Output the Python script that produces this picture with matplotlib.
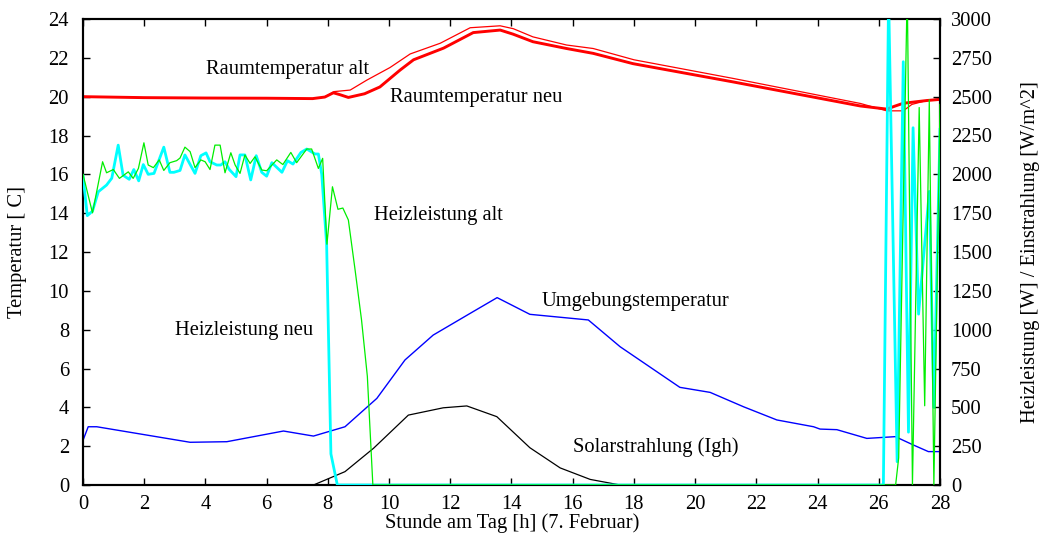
import matplotlib
matplotlib.use("Agg")
import matplotlib.pyplot as plt

plt.rcParams['font.family'] = ['Liberation Serif', 'DejaVu Serif']

# ---- data ----
hours_tick = list(range(0, 29, 2))
temp_ticks = list(range(0, 25, 2))
power_ticks = list(range(0, 3001, 250))

# Raumtemperatur neu (thick red) [C]
room_new_h = [0, 2, 4, 6, 7.5, 7.9, 8.18, 8.4, 8.67, 9.2, 9.7, 10.36, 10.8, 11.78, 12.75,
              13.63, 14.05, 14.7, 15.8, 16.67, 17.97, 21.24, 25.4, 26.26, 26.54, 26.8, 27.56, 28.0]
room_new_t = [20.0, 19.95, 19.93, 19.92, 19.9, 19.98, 20.2, 20.1, 19.96, 20.15, 20.5, 21.37, 21.9,
              22.5, 23.3, 23.43, 23.22, 22.83, 22.48, 22.23, 21.7, 20.76, 19.52, 19.36, 19.52,
              19.66, 19.8, 19.86]

# Raumtemperatur alt (thin red) [C]
room_old_h = [0, 2, 4, 6, 7.5, 7.9, 8.2, 8.73, 9.27, 10.03, 10.69, 11.67, 12.65, 13.63, 14.06,
              14.7, 15.8, 16.67, 18.0, 21.24, 25.4, 26.26, 26.8, 27.08, 27.56, 28.0]
room_old_t = [20.0, 19.95, 19.93, 19.92, 19.9, 19.98, 20.26, 20.34, 20.85, 21.5, 22.2, 22.75,
              23.55, 23.65, 23.5, 23.08, 22.66, 22.48, 21.9, 20.94, 19.65, 19.27, 19.27, 19.6,
              19.8, 19.88]

# Umgebungstemperatur (blue) [C]
amb_h = [0, 0.17, 0.45, 3.5, 4.7, 6.55, 7.53, 8.56, 9.6, 10.52, 11.44, 12.65, 13.53, 14.6,
         16.51, 17.55, 19.5, 20.49, 21.58, 22.67, 23.87, 24.08, 24.63, 25.61, 26.54, 27.13,
         27.62, 28.0]
amb_t = [2.3, 3.0, 3.0, 2.2, 2.23, 2.78, 2.52, 3.0, 4.46, 6.44, 7.72, 8.84, 9.65, 8.79, 8.5,
         7.12, 5.03, 4.77, 4.03, 3.35, 3.0, 2.88, 2.85, 2.4, 2.49, 2.06, 1.72, 1.72]

# Solarstrahlung (Igh) (black) [W/m^2]
solar_h = [0, 7.53, 8.56, 9.49, 10.63, 11.77, 12.54, 13.52, 14.6, 15.59, 16.57, 17.55, 28.0]
solar_w = [0, 0, 86, 236, 450, 497, 509, 440, 240, 110, 36, 0, 0]

# Heizleistung alt (green) [W]
heat_old_h = [0, 0.31, 0.64, 0.77, 0.99, 1.19, 1.48, 1.64, 1.81, 1.99, 2.13, 2.30, 2.49, 2.64,
              2.84, 3.06, 3.17, 3.33, 3.50, 3.66, 3.85, 3.99, 4.15, 4.31, 4.48, 4.64, 4.83,
              4.97, 5.13, 5.29, 5.46, 5.62, 5.84, 6.00, 6.33, 6.53, 6.79, 6.98, 7.31, 7.47,
              7.69, 7.83, 7.97, 8.15, 8.33, 8.49, 8.67, 8.89, 9.10, 9.29, 9.47,
              26.55, 26.65, 26.93, 27.10, 27.32, 27.50, 27.65, 27.80, 28.0]
heat_old_w = [2000, 1752, 2081, 2010, 2031, 1974, 2016, 1974, 2038, 2203, 2060, 2043, 2093, 2025,
              2075, 2088, 2105, 2175, 2146, 2043, 2093, 2081, 2031, 2188, 2188, 2010, 2139,
              2060, 2006, 2125, 2070, 2113, 2028, 2023, 2093, 2063, 2141, 2075, 2163, 2163,
              2038, 2103, 1550, 1920, 1775, 1783, 1706, 1384, 1063, 700, 0,
              0, 175, 3200, 0, 2430, 510, 2480, 0, 2450]

# Heizleistung neu (cyan) [W]
heat_new_h = [0, 0.14, 0.31, 0.50, 0.77, 0.94, 1.15, 1.31, 1.51, 1.66, 1.82, 1.97, 2.13, 2.32,
              2.64, 2.84, 2.97, 3.17, 3.33, 3.66, 3.85, 4.02, 4.15, 4.37, 4.50, 4.64, 4.78,
              5.00, 5.13, 5.29, 5.48, 5.66, 5.84, 6.00, 6.17, 6.50, 6.68, 6.86, 7.12, 7.31,
              7.58, 7.69, 7.80, 7.96, 8.10, 8.31,
              26.15, 26.32, 26.60, 26.80, 26.97, 27.12, 27.30, 27.65, 27.80, 28.0]
heat_new_w = [1990, 1734, 1763, 1888, 1931, 1975, 2188, 1994, 1968, 2031, 1958, 2063, 2000, 2006,
              2175, 2013, 2013, 2025, 2125, 2006, 2120, 2138, 2081, 2060, 2060, 2081, 2031,
              1985, 2125, 2125, 1964, 2120, 2013, 1988, 2075, 2013, 2088, 2066, 2141, 2163,
              2131, 2131, 2000, 1550, 200, 0,
              0, 3150, 150, 2725, 340, 2300, 1100, 1890, 500, 2290]

# ---- figure ----
W, H = 1043, 537
fig = plt.figure(figsize=(W / 100, H / 100), dpi=100)
L, R, B, T = 83, 940, 485, 19
ax = fig.add_axes([L / W, 1 - B / H, (R - L) / W, (B - T) / H])
ax2 = ax.twinx()

fs = 14.8

ax.plot(room_old_h, room_old_t, color='#ff0000', lw=0.9, zorder=3)
ax.plot(room_new_h, room_new_t, color='#ff0000', lw=2.1, zorder=3)
ax.plot(amb_h, amb_t, color='#0000ff', lw=1.0, zorder=3)

ax2.plot(solar_h, solar_w, color='black', lw=0.9, zorder=2)
ax2.plot(heat_new_h, heat_new_w, color='#00ffff', lw=2.0, zorder=3)
ax2.plot(heat_old_h, heat_old_w, color='#00ee00', lw=0.9, zorder=4)

ax.set_xlim(0, 28)
ax.set_ylim(0, 24)
ax2.set_ylim(0, 3000)
ax.set_xticks(hours_tick)
ax.set_yticks(temp_ticks)
ax2.set_yticks(power_ticks)

ax.tick_params(axis='x', direction='in', top=True, length=5, width=1.0, labelsize=fs, pad=7)
ax.tick_params(axis='y', direction='in', left=True, right=False, length=5, width=1.0,
               labelsize=fs, pad=10)
ax2.tick_params(axis='y', direction='in', right=True, length=5, width=1.0, labelsize=fs, pad=8)
for a in (ax, ax2):
    for s in a.spines.values():
        s.set_linewidth(1.5)

# in-plot labels
ax.text(4.02, 21.16, 'Raumtemperatur alt', fontsize=fs, va='baseline', ha='left')
ax.text(10.03, 19.74, 'Raumtemperatur neu', fontsize=fs, va='baseline', ha='left')
ax.text(9.51, 13.65, 'Heizleistung alt', fontsize=fs, va='baseline', ha='left')
ax.text(3.0, 7.72, 'Heizleistung neu', fontsize=fs, va='baseline', ha='left')
ax.text(14.99, 9.22, 'Umgebungstemperatur', fontsize=fs, va='baseline', ha='left')
ax.text(16.0, 1.71, 'Solarstrahlung (Igh)', fontsize=fs, va='baseline', ha='left')

# axis labels
fig.text(18 / W, 1 - 252 / H, 'Temperatur [ C]', rotation=90, ha='center', va='center', fontsize=fs)
fig.text(1030 / W, 1 - 252 / H, 'Heizleistung [W] / Einstrahlung [W/m^2]', rotation=90,
         ha='center', va='center', fontsize=fs)
fig.text(512 / W, 1 - 523 / H, 'Stunde am Tag [h] (7. Februar)', ha='center', va='center',
         fontsize=fs)

fig.savefig('out.png', dpi=100, facecolor='white')
